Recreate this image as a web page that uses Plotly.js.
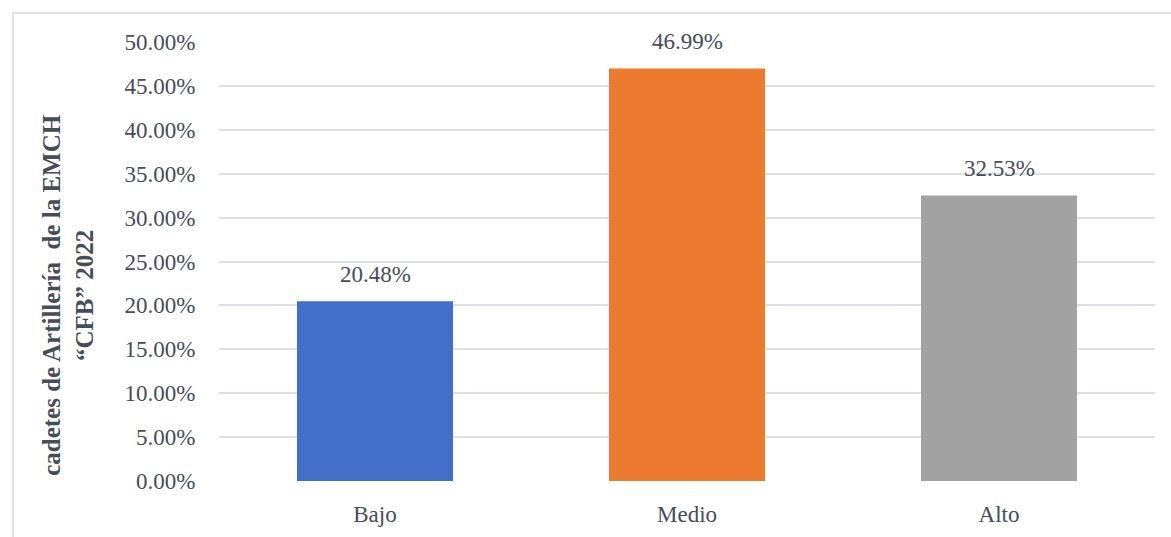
<!DOCTYPE html>
<html>
<head>
<meta charset="utf-8">
<script src="https://cdn.plot.ly/plotly-3.0.1.min.js"></script>
<style>
html,body{margin:0;padding:0;background:#fff;}
#frame{position:absolute;left:12px;top:12px;width:1200px;height:600px;border-left:2px solid #dde1e7;border-top:2px solid #dde1e7;box-sizing:border-box;}
#chart{position:absolute;left:0;top:0;width:1171px;height:537px;}
</style>
</head>
<body>
<div id="frame"></div>
<div id="chart"></div>
<script>
const categories = ["Bajo", "Medio", "Alto"];
const values = [0.2048, 0.4699, 0.3253];
const labels = ["20.48%", "46.99%", "32.53%"];
const barColors = ["#4270c8", "#ec7a2f", "#a2a2a2"];
const yTicks = [0, 0.05, 0.10, 0.15, 0.20, 0.25, 0.30, 0.35, 0.40, 0.45, 0.50];
const yTickLabels = ["0.00%", "5.00%", "10.00%", "15.00%", "20.00%", "25.00%", "30.00%", "35.00%", "40.00%", "45.00%", "50.00%"];
const yTitleLines = ["cadetes de Artillería  de la EMCH", "“CFB” 2022"];

const font = "'Liberation Serif', 'Times New Roman', serif";
const textColor = "#454d59";

const trace = {
  type: "bar",
  x: categories,
  y: values,
  marker: {color: barColors, line: {width: 0}},
  hoverinfo: "none"
};

const annotations = categories.map((c, i) => ({
  x: c, y: values[i], xref: "x", yref: "y",
  text: labels[i], showarrow: false, yanchor: "bottom", yshift: 12,
  font: {family: font, size: 23, color: textColor}
}));

annotations.push({
  xref: "paper", yref: "paper", x: 0, y: 0.424, xshift: -151,
  xanchor: "center", yanchor: "middle", textangle: -90, showarrow: false,
  text: "<b>" + yTitleLines.join("<br>") + "</b>",
  font: {family: font, size: 25, color: textColor}
});

const layout = {
  width: 1171, height: 537,
  margin: {l: 219, r: 16, t: 42, b: 56},
  paper_bgcolor: "rgba(0,0,0,0)",
  plot_bgcolor: "rgba(0,0,0,0)",
  bargap: 0.5,
  showlegend: false,
  xaxis: {
    type: "category",
    tickfont: {family: font, size: 23, color: textColor},
    showgrid: false, zeroline: false, showline: false,
    ticks: "outside", ticklen: 12, tickcolor: "rgba(0,0,0,0)",
    automargin: false
  },
  yaxis: {
    range: [0, 0.5],
    tickvals: yTicks, ticktext: yTickLabels,
    tickfont: {family: font, size: 23, color: textColor},
    showgrid: true, gridcolor: "#dcdfe5", gridwidth: 2,
    zeroline: false, showline: false, ticks: "outside", ticklen: 18, tickcolor: "rgba(0,0,0,0)",
    automargin: false
  },
  annotations: annotations
};

Plotly.newPlot("chart", [trace], layout, {displayModeBar: false, staticPlot: true});
</script>
</body>
</html>
